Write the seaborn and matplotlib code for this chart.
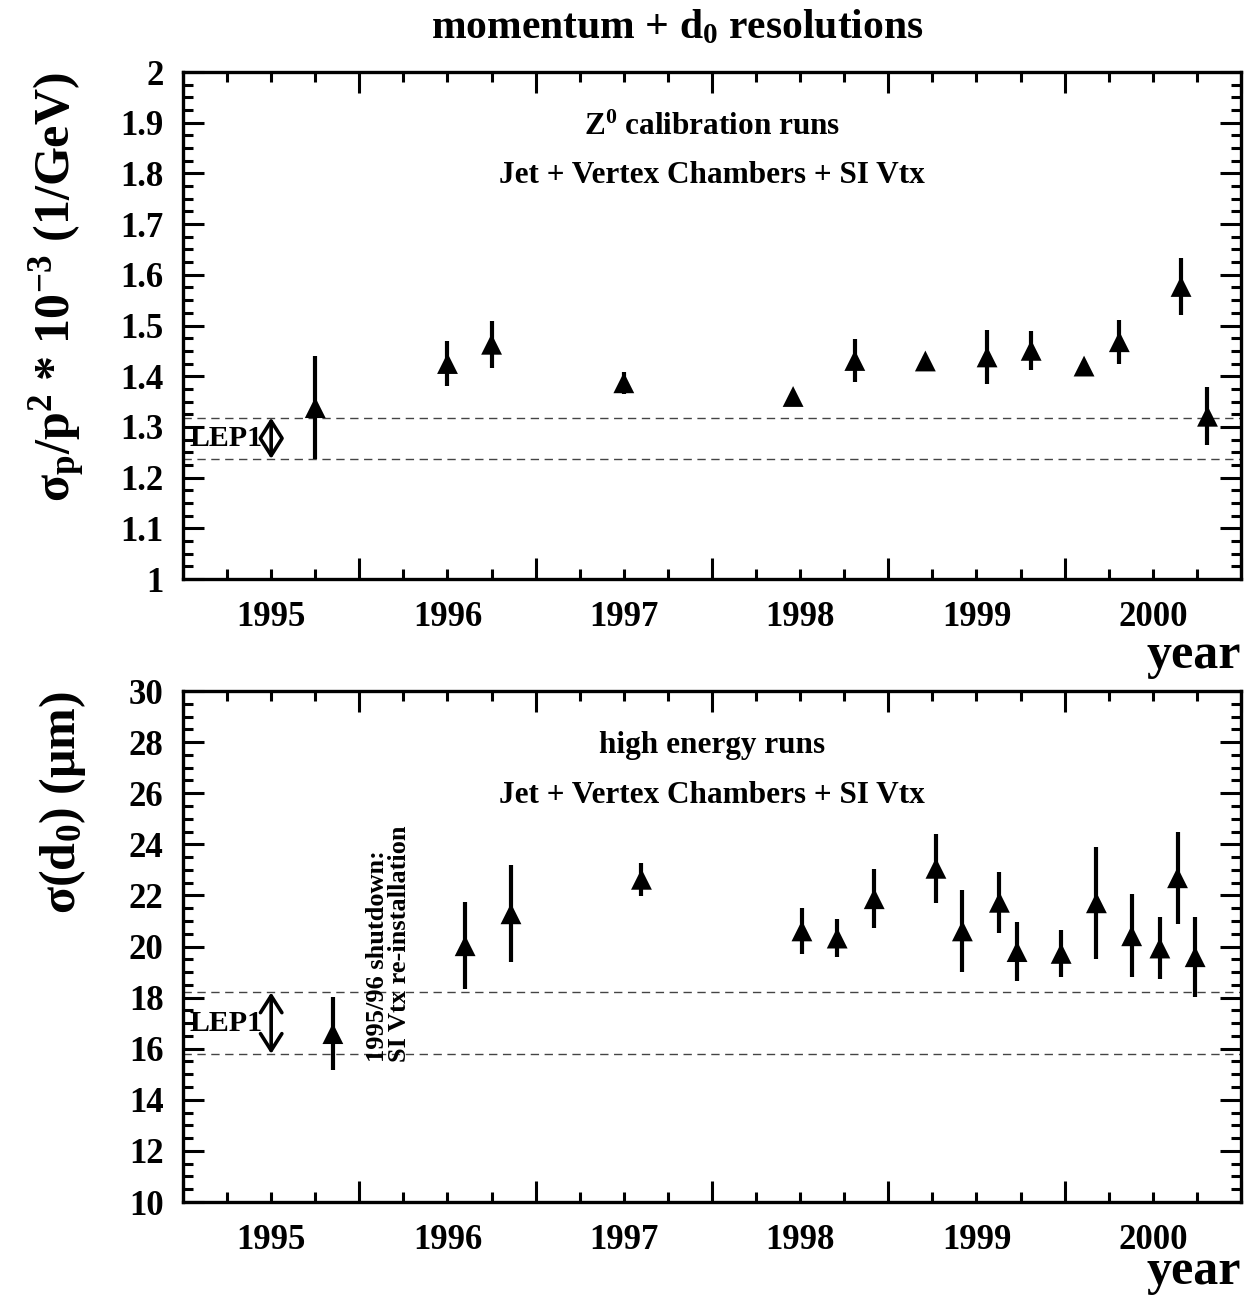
import matplotlib
matplotlib.use("Agg")
import matplotlib.pyplot as plt
import seaborn as sns
import numpy as np
import pandas as pd
from matplotlib.ticker import MultipleLocator, FuncFormatter

# ---------------- data ----------------
year_labels = ["1995", "1996", "1997", "1998", "1999", "2000"]

mom_year = [1995.25, 1996.00, 1996.25, 1997.00, 1997.96, 1998.31, 1998.71,
            1999.06, 1999.31, 1999.61, 1999.81, 2000.16, 2000.31]
mom_res = [1.338, 1.425, 1.463, 1.387, 1.360, 1.431, 1.430,
           1.438, 1.451, 1.420, 1.468, 1.577, 1.321]
mom_err = [0.101, 0.045, 0.046, 0.022, 0.010, 0.043, 0.010,
           0.054, 0.039, 0.010, 0.043, 0.056, 0.057]
mom_lep1 = [1.237, 1.318]

d0_year = [1995.35, 1996.10, 1996.36, 1997.10, 1998.01, 1998.21, 1998.42,
           1998.77, 1998.92, 1999.13, 1999.23, 1999.48, 1999.68, 1999.88,
           2000.04, 2000.14, 2000.24]
d0_res = [16.59, 20.03, 21.28, 22.63, 20.61, 20.33, 21.87, 23.06, 20.61,
          21.73, 19.80, 19.73, 21.71, 20.42, 19.94, 22.69, 19.60]
d0_err = [1.42, 1.70, 1.90, 0.65, 0.91, 0.73, 1.15, 1.34, 1.60, 1.19,
          1.14, 0.91, 2.20, 1.63, 1.23, 1.81, 1.57]
d0_lep1 = [15.8, 18.2]

# ---------------- style ----------------
sns.set_theme(style="ticks")
plt.rcParams.update({
    "font.family": ["Liberation Serif", "DejaVu Serif"],
    "font.weight": "bold",
    "mathtext.fontset": "custom",
    "mathtext.rm": "Liberation Serif:bold",
    "mathtext.it": "Liberation Serif:bold",
    "mathtext.bf": "Liberation Serif:bold",
    "mathtext.default": "rm",
    "axes.linewidth": 2.4,
    "axes.edgecolor": "black",
    "axes.labelcolor": "black",
    "text.color": "black",
    "xtick.color": "black",
    "ytick.color": "black",
    "axes.labelweight": "bold",
})

fig = plt.figure(figsize=(12.48, 12.96), dpi=100)
ax1 = fig.add_axes([0.14663, 0.55324, 0.84776, 0.39120])
ax2 = fig.add_axes([0.14663, 0.07253, 0.84776, 0.39429])

yr_nums = [int(y) for y in year_labels]
major_x = np.arange(yr_nums[0] - 0.5, yr_nums[-1] + 0.51, 1.0)
minor_x, minor_lab = [], []
for y, lab in zip(yr_nums, year_labels):
    minor_x += [y - 0.25, y, y + 0.25]
    minor_lab += ["", lab, ""]


def setup(ax, ylim, ymaj, ymin, year_y):
    ax.set_xlim(major_x[0], major_x[-1])
    ax.set_ylim(*ylim)
    ax.set_xticks(major_x)
    ax.set_xticklabels([""] * len(major_x))
    ax.set_xticks(minor_x, labels=minor_lab, minor=True)
    ax.yaxis.set_major_locator(MultipleLocator(ymaj))
    ax.yaxis.set_minor_locator(MultipleLocator(ymin))
    ax.yaxis.set_major_formatter(FuncFormatter(lambda v, _: f"{round(v, 3):g}"))
    ax.tick_params(which="both", direction="in", top=True, right=True,
                   width=2.2, color="black")
    ax.tick_params(which="major", length=15)
    ax.tick_params(which="minor", length=7)
    ax.tick_params(axis="x", which="both", labelsize=25, pad=16)
    ax.tick_params(axis="y", which="major", labelsize=25, pad=14)
    for lab in ax.get_xticklabels(minor=True) + ax.get_yticklabels():
        lab.set_fontweight("bold")
    ax.text(1.0, year_y, "year", transform=ax.transAxes, ha="right",
            va="baseline", fontsize=36, fontweight="bold")


def draw(ax, xs, ys, es, lep):
    df = pd.DataFrame({"year": xs, "res": ys, "err": es})
    ax.errorbar(df["year"], df["res"], yerr=df["err"], fmt="none",
                ecolor="black", elinewidth=3.0, capsize=0, zorder=2)
    sns.scatterplot(data=df, x="year", y="res", ax=ax, marker="^", s=225,
                    color="black", edgecolor="none", linewidth=0,
                    zorder=3, legend=False)
    for v in lep:
        ax.axhline(v, color="#444444", lw=1.0, ls=(0, (6, 4)), zorder=1)
    ax.annotate("", xy=(yr_nums[0], lep[0]), xytext=(yr_nums[0], lep[1]),
                arrowprops=dict(arrowstyle="<->,head_length=0.55,head_width=0.35",
                                lw=2.6, color="black", shrinkA=0, shrinkB=0,
                                mutation_scale=22))
    ax.text(yr_nums[0] - 0.05, (lep[0] + lep[1]) / 2, "LEP1", ha="right",
            va="center", fontsize=21.5, fontweight="bold")
    ax.set_xlabel("")


setup(ax1, (1.0, 2.0), 0.1, 0.025, -0.176)
draw(ax1, mom_year, mom_res, mom_err, mom_lep1)
ax1.set_ylabel(r"σ$_{p}$/p$^{2}$ * 10$^{-3}$ (1/GeV)", fontsize=36,
               loc="top", fontweight="bold")
ax1.yaxis.set_label_coords(-0.09, 1.0)
tr1 = ax1.get_xaxis_transform()
ax1.text(1997.5, 0.891, r"Z$^{0}$ calibration runs", transform=tr1,
         ha="center", va="center", fontsize=22.5, fontweight="bold")
ax1.text(1997.5, 0.795, "Jet + Vertex Chambers + SI Vtx", transform=tr1,
         ha="center", va="center", fontsize=22.5, fontweight="bold")

setup(ax2, (10, 30), 2, 0.5, -0.161)
draw(ax2, d0_year, d0_res, d0_err, d0_lep1)
ax2.set_ylabel(r"σ(d$_{0}$) (μm)", fontsize=36, loc="top", fontweight="bold")
ax2.yaxis.set_label_coords(-0.09, 1.0)
tr2 = ax2.get_xaxis_transform()
ax2.text(1997.5, 0.894, "high energy runs", transform=tr2,
         ha="center", va="center", fontsize=22.5, fontweight="bold")
ax2.text(1997.5, 0.796, "Jet + Vertex Chambers + SI Vtx", transform=tr2,
         ha="center", va="center", fontsize=22.5, fontweight="bold")
ax2.text(1995.665, 15.48, "1995/96 shutdown:\nSI Vtx re-installation",
         rotation=90, ha="center", va="bottom", multialignment="left",
         fontsize=19, fontweight="bold", linespacing=0.95)

fig.text(0.5425, 1 - 38 / 1296, r"momentum + d$_{0}$ resolutions",
         ha="center", va="baseline", fontsize=30, fontweight="bold")

fig.savefig("out.png", dpi=100)
